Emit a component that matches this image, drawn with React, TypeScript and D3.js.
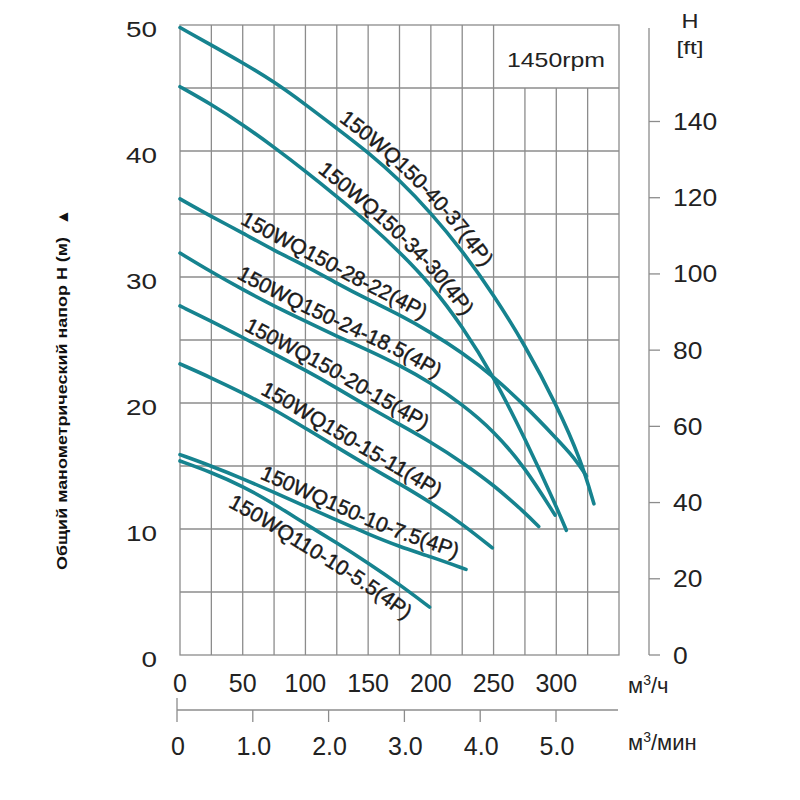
import React, { useRef, useEffect } from 'react';
import * as d3 from 'd3';

// axis ticks
const flowTicks = [0, 50, 100, 150, 200, 250, 300];
const flowMinTicks = [0, 1, 2, 3, 4, 5];
const headTicks = [0, 10, 20, 30, 40, 50];
const feetTicks = [0, 20, 40, 60, 80, 100, 120, 140];

// pump names (top to bottom)
const pumpNames = [
  '150WQ150-40-37(4P)',
  '150WQ150-34-30(4P)',
  '150WQ150-28-22(4P)',
  '150WQ150-24-18.5(4P)',
  '150WQ150-20-15(4P)',
  '150WQ150-15-11(4P)',
  '150WQ150-10-7.5(4P)',
  '150WQ110-10-5.5(4P)',
];

// Q (m3/h) / H (m)
const q4037 = [0, 25, 50, 75, 100, 125, 150, 175, 200, 225, 250, 275, 300, 320, 330];
const h4037 = [49.8, 48.4, 47.0, 45.5, 43.7, 41.8, 39.9, 37.7, 35.1, 32.1, 28.6, 24.6, 19.9, 15.4, 12.0];

const q3430 = [0, 25, 50, 75, 100, 125, 150, 175, 200, 225, 250, 275, 300, 308];
const h3430 = [45.1, 43.7, 42.1, 40.3, 38.4, 36.4, 34.3, 32.0, 29.4, 26.1, 22.1, 17.2, 11.8, 9.9];

const q2822 = [0, 25, 50, 75, 100, 125, 150, 175, 200, 225, 250, 275, 300, 315, 324];
const h2822 = [36.2, 34.8, 33.5, 32.1, 30.9, 29.5, 28.2, 27.0, 25.6, 24.0, 22.1, 19.8, 17.2, 15.6, 14.2];

const q2418 = [0, 25, 50, 75, 100, 125, 150, 175, 200, 225, 250, 275, 299];
const h2418 = [31.9, 30.4, 29.0, 27.7, 26.5, 25.3, 24.2, 23.0, 21.6, 19.9, 17.8, 14.9, 11.1];

const q2015 = [0, 25, 50, 75, 100, 125, 150, 175, 200, 225, 250, 275, 286];
const h2015 = [27.7, 26.5, 25.2, 23.9, 22.6, 21.2, 19.7, 18.3, 16.9, 15.3, 13.5, 11.3, 10.2];

const q1511 = [0, 25, 50, 75, 100, 125, 150, 175, 200, 225, 249];
const h1511 = [23.1, 22.0, 20.8, 19.5, 18.0, 16.5, 15.0, 13.6, 12.1, 10.4, 8.5];

const q1075 = [0, 25, 50, 75, 100, 125, 150, 175, 200, 228];
const h1075 = [15.9, 15.0, 14.0, 12.9, 11.8, 10.7, 9.6, 8.6, 7.8, 6.8];

const q1055 = [0, 25, 50, 75, 100, 125, 150, 175, 199];
const h1055 = [15.4, 14.5, 13.4, 12.0, 10.4, 8.9, 7.3, 5.6, 3.8];

const flows = [q4037, q3430, q2822, q2418, q2015, q1511, q1075, q1055];
const heads = [h4037, h3430, h2822, h2418, h2015, h1511, h1075, h1055];

// where each label starts along its curve (m3/h), and which side it sits on
const labelStartQ = [123, 106, 45, 42, 48, 61, 61, 46];
const labelBelow = [false, false, false, false, false, false, false, true];

const FONT = '"Liberation Sans", Arial, Helvetica, sans-serif';

export default function App() {
  const ref = useRef(null);

  useEffect(() => {
    if (!ref.current) return;
    d3.select(ref.current).selectAll('*').remove();

    const svg = d3.select(ref.current);
    const x = d3.scaleLinear().domain([0, 350]).range([180, 619]);
    const y = d3.scaleLinear().domain([0, 50]).range([655, 25]);
    const yFt = d3.scaleLinear().domain([0, 140]).range([655, 121.5]);
    const xMin = d3.scaleLinear().domain([0, 5]).range([177, 556]);

    const grey = '#8c8c8c';
    const teal = '#16838f';

    svg.append('rect').attr('width', 800).attr('height', 800).attr('fill', '#fff');

    // grid
    const grid = svg.append('g').attr('stroke', grey).attr('stroke-width', 1.3);
    d3.range(25, 350, 25).forEach((q) => {
      const top = q > 250 ? y(45) : y(50);
      grid.append('line').attr('x1', x(q)).attr('x2', x(q)).attr('y1', top).attr('y2', y(0));
    });
    d3.range(5, 50, 5).forEach((h) => {
      grid.append('line').attr('x1', x(0)).attr('x2', x(350)).attr('y1', y(h)).attr('y2', y(h));
    });
    grid.append('rect')
      .attr('x', x(0)).attr('y', y(50))
      .attr('width', x(350) - x(0)).attr('height', y(0) - y(50))
      .attr('fill', 'none');

    svg.append('text')
      .attr('x', 507).attr('y', 67)
      .attr('font-family', FONT).attr('font-size', 21)
      .attr('textLength', 98).attr('lengthAdjust', 'spacingAndGlyphs')
      .attr('fill', '#222')
      .text('1450rpm');

    // left axis labels
    svg.append('g').selectAll('text').data(headTicks).enter().append('text')
      .attr('x', 157).attr('y', (d) => y(d) + 12)
      .attr('text-anchor', 'end')
      .attr('font-family', FONT).attr('font-size', 22)
      .attr('textLength', (d) => String(d).length * 15.5).attr('lengthAdjust', 'spacingAndGlyphs')
      .attr('fill', '#222')
      .text((d) => d);

    // y title
    svg.append('text')
      .attr('transform', 'translate(67,570) rotate(-90)')
      .attr('font-family', FONT).attr('font-size', 14).attr('font-weight', 'bold')
      .attr('textLength', 333).attr('lengthAdjust', 'spacingAndGlyphs')
      .attr('fill', '#111')
      .text('Общий манометрический напор H (м)');
    svg.append('text')
      .attr('transform', 'translate(68,225) rotate(-90)')
      .attr('font-family', FONT).attr('font-size', 16)
      .attr('fill', '#111')
      .text('▲');

    // right axis (ft)
    const right = svg.append('g');
    right.append('line').attr('x1', 649).attr('x2', 649).attr('y1', 28).attr('y2', 655)
      .attr('stroke', grey).attr('stroke-width', 1.3);
    right.selectAll('line.tick').data(feetTicks).enter().append('line')
      .attr('class', 'tick')
      .attr('x1', 649).attr('x2', 660).attr('y1', (d) => yFt(d)).attr('y2', (d) => yFt(d))
      .attr('stroke', grey).attr('stroke-width', 1.3);
    right.selectAll('text').data(feetTicks).enter().append('text')
      .attr('x', 673).attr('y', (d) => yFt(d) + 8.5)
      .attr('font-family', FONT).attr('font-size', 23)
      .attr('textLength', (d) => String(d).length * 14.7).attr('lengthAdjust', 'spacingAndGlyphs')
      .attr('fill', '#222')
      .text((d) => d);
    svg.append('text').attr('x', 690).attr('y', 28).attr('text-anchor', 'middle')
      .attr('font-family', FONT).attr('font-size', 21).attr('fill', '#222')
      .attr('textLength', 17).attr('lengthAdjust', 'spacingAndGlyphs')
      .text('H');
    svg.append('text').attr('x', 690).attr('y', 54).attr('text-anchor', 'middle')
      .attr('font-family', FONT).attr('font-size', 18).attr('fill', '#222')
      .attr('textLength', 27).attr('lengthAdjust', 'spacingAndGlyphs')
      .text('[ft]');

    // bottom axis m3/h
    svg.append('g').selectAll('text').data(flowTicks).enter().append('text')
      .attr('x', (d) => x(d)).attr('y', 692)
      .attr('text-anchor', 'middle')
      .attr('font-family', FONT).attr('font-size', 25).attr('fill', '#222')
      .text((d) => d);
    const u1 = svg.append('text').attr('x', 628).attr('y', 693)
      .attr('font-family', FONT).attr('font-size', 22).attr('fill', '#222');
    u1.append('tspan').text('м');
    u1.append('tspan').attr('dy', -8).attr('font-size', 14).text('3');
    u1.append('tspan').attr('dy', 8).text('/ч');

    // bottom axis m3/min
    const low = svg.append('g').attr('stroke', grey).attr('stroke-width', 1.3);
    low.append('line').attr('x1', xMin(0)).attr('x2', 618).attr('y1', 710).attr('y2', 710);
    flowMinTicks.forEach((m) => {
      low.append('line').attr('x1', xMin(m)).attr('x2', xMin(m))
        .attr('y1', m === 0 ? 698 : 710).attr('y2', 722);
    });
    svg.append('g').selectAll('text').data(flowMinTicks).enter().append('text')
      .attr('x', (d) => xMin(d) + 1).attr('y', 755)
      .attr('text-anchor', 'middle')
      .attr('font-family', FONT).attr('font-size', 25).attr('fill', '#222')
      .text((d) => (d === 0 ? '0' : d.toFixed(1)));
    const u2 = svg.append('text').attr('x', 628).attr('y', 750)
      .attr('font-family', FONT).attr('font-size', 22).attr('fill', '#222');
    u2.append('tspan').text('м');
    u2.append('tspan').attr('dy', -8).attr('font-size', 14).text('3');
    u2.append('tspan').attr('dy', 8).text('/мин');

    // curves
    const line = d3.line<[number, number]>()
      .x((d) => x(d[0])).y((d) => y(d[1]))
      .curve(d3.curveBasis);
    const pxLine = d3.line<[number, number]>().curve(d3.curveBasis);
    const defs = svg.append('defs');

    flows.forEach((qs, i) => {
      const hs = heads[i];
      const pts: [number, number][] = qs.map((q, k) => [q, hs[k]]);
      svg.append('path')
        .attr('d', line(pts))
        .attr('fill', 'none')
        .attr('stroke', teal)
        .attr('stroke-width', 3.6)
        .attr('stroke-linecap', 'round');

      // label path: the curve from the label start, shifted along its normal
      const hAt = d3.scaleLinear().domain(qs).range(hs);
      const q0 = labelStartQ[i];
      const sub: [number, number][] = [[q0, hAt(q0)], ...pts.filter((p) => p[0] > q0 + 3)];
      const px = sub.map((p) => [x(p[0]), y(p[1])]);
      const off = labelBelow[i] ? -25 : 7;
      const shifted: [number, number][] = px.map((p, k) => {
        const a = px[Math.max(0, k - 1)];
        const b = px[Math.min(px.length - 1, k + 1)];
        const tx = b[0] - a[0];
        const ty = b[1] - a[1];
        const n = Math.hypot(tx, ty) || 1;
        return [p[0] + (ty / n) * off, p[1] - (tx / n) * off];
      });
      // extend the tail a little so long labels never run out of path
      const last = shifted[shifted.length - 1];
      const prev = shifted[shifted.length - 2];
      shifted.push([last[0] + (last[0] - prev[0]) * 2, last[1] + (last[1] - prev[1]) * 2]);
      defs.append('path').attr('id', `lab${i}`).attr('d', pxLine(shifted));

      svg.append('text')
        .attr('font-family', FONT).attr('font-size', 21)
        .attr('fill', '#1a1a1a')
        .attr('stroke', '#1a1a1a').attr('stroke-width', 0.45)
        .append('textPath')
        .attr('href', `#lab${i}`)
        .text(pumpNames[i]);
    });
  }, []);

  return (
    <svg
      ref={ref}
      width={800}
      height={800}
      style={{ position: 'absolute', left: 0, top: 0, background: '#fff' }}
    />
  );
}
